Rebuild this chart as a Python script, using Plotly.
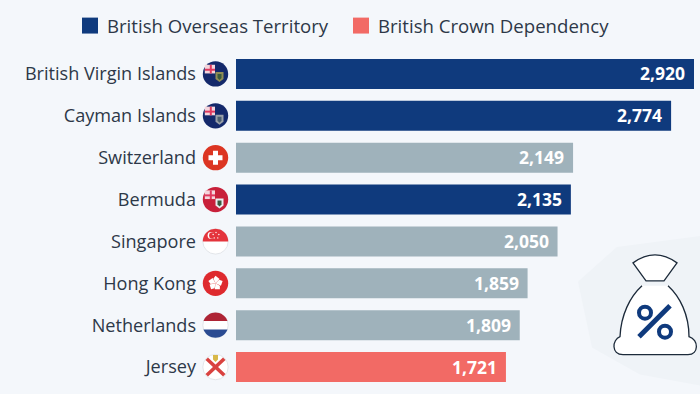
import math
import plotly.graph_objects as go

categories = ["British Virgin Islands", "Cayman Islands", "Switzerland", "Bermuda",
              "Singapore", "Hong Kong", "Netherlands", "Jersey"]
values = [2920, 2774, 2149, 2135, 2050, 1859, 1809, 1721]
groups = ["territory", "territory", "other", "territory", "other", "other", "other", "dependency"]
group_colors = {"territory": "#0f3a7d", "other": "#9fb2bb", "dependency": "#f26a65"}
legend_labels = [("British Overseas Territory", "territory", 82),
                 ("British Crown Dependency", "dependency", 353)]
FONT = "Open Sans"
BG = "#f4f7fb"
TXT = "#2d3848"

L, R, T, B = 236, 694, 52.5, 388.5
def px(x): return (x - L) / (R - L)
def py(y): return 1 - (y - T) / (B - T)
def pts(lst, close=True):
    s = "M" + " L".join(f"{px(x):.5f},{py(y):.5f}" for x, y in lst)
    return s + (" Z" if close else "")
shapes = []
def poly(lst, fill, line=None, lw=0, close=True):
    shapes.append(dict(type="path", xref="paper", yref="paper", path=pts(lst, close),
                       fillcolor=fill if fill else "rgba(0,0,0,0)",
                       line=dict(color=line or "rgba(0,0,0,0)", width=lw)))
def circ(cx, cy, r, fill, line=None, lw=0):
    shapes.append(dict(type="circle", xref="paper", yref="paper",
                       x0=px(cx - r), x1=px(cx + r), y0=py(cy + r), y1=py(cy - r),
                       fillcolor=fill if fill else "rgba(0,0,0,0)",
                       line=dict(color=line or "rgba(0,0,0,0)", width=lw)))
def band(cx, cy, r, y0, y1, fill):
    n = 16
    left, right = [], []
    for i in range(n + 1):
        y = y0 + (y1 - y0) * i / n
        d = math.sqrt(max(r * r - (y - cy) ** 2, 0))
        left.append((cx - d, y)); right.append((cx + d, y))
    poly(right + left[::-1], fill)
def cpath(d, fill, line, lw):
    shapes.append(dict(type="path", xref="paper", yref="paper", path=d, fillcolor=fill,
                       line=dict(color=line, width=lw)))
def P(x, y): return f"{px(x):.5f},{py(y):.5f}"

# pale hexagon behind the icon
poly([(578, 282), (617, 247), (700, 236), (700, 386), (640, 375), (592, 348)], "#eff3f7")

# legend
for label, g, x in legend_labels:
    poly([(x, 17), (x + 16, 17), (x + 16, 33), (x, 33)], group_colors[g])

# flags
FX, FR = 215.5, 12.7
CY = [T + 21 + 42 * i for i in range(8)]
def jack(cx, cy, r):
    x0, y0 = cx - r + 2, cy - r + 3.5
    poly([(x0, y0), (cx - 0.5, y0), (cx - 0.5, cy - 0.5), (x0, cy - 0.5)], "#f4d5dc")
    poly([(x0, y0 + 4), (cx - 0.5, y0 + 4), (cx - 0.5, y0 + 6), (x0, y0 + 6)], "#e0395f")
    poly([(x0 + 5, y0), (x0 + 7, y0), (x0 + 7, cy - 0.5), (x0 + 5, cy - 0.5)], "#e0395f")
def crest(cx, cy, c1, c2):
    poly([(cx - 4, cy - 4), (cx + 4, cy - 4), (cx + 4, cy + 3), (cx, cy + 6), (cx - 4, cy + 3)], c1)
    poly([(cx - 2, cy - 2), (cx + 2, cy - 2), (cx + 2, cy + 2), (cx, cy + 4), (cx - 2, cy + 2)], c2)

# BVI
circ(FX, CY[0], FR, "#14296b"); jack(FX, CY[0], FR); crest(FX + 4, CY[0] + 2, "#8f8d55", "#3b5a3c")
# Cayman
circ(FX, CY[1], FR, "#14296b"); jack(FX, CY[1], FR); crest(FX + 4, CY[1] + 3, "#9aa0a8", "#4b5f70")
# Switzerland
c = CY[2]
circ(FX, c, FR, "#dc3522")
poly([(FX - 2.5, c - 7), (FX + 2.5, c - 7), (FX + 2.5, c - 2.5), (FX + 7, c - 2.5), (FX + 7, c + 2.5),
      (FX + 2.5, c + 2.5), (FX + 2.5, c + 7), (FX - 2.5, c + 7), (FX - 2.5, c + 2.5), (FX - 7, c + 2.5),
      (FX - 7, c - 2.5), (FX - 2.5, c - 2.5)], "#ffffff")
# Bermuda
c = CY[3]
circ(FX, c, FR, "#c8203a"); jack(FX, c, FR); crest(FX + 4, c + 3, "#e9eef0", "#3a5a40")
# Singapore
c = CY[4]
circ(FX, c, FR, "#ffffff", "#e3e6ea", 1)
band(FX, c, FR, c - FR, c, "#e4343c")
circ(FX - 4.5, c - 6, 3.4, "#ffffff"); circ(FX - 3.2, c - 6, 3.2, "#e4343c")
for i in range(5):
    a = -math.pi / 2 + i * 2 * math.pi / 5
    circ(FX + 0.5 + 3 * math.cos(a), c - 6 + 3 * math.sin(a), 0.7, "#ffffff")
# Hong Kong
c = CY[5]
circ(FX, c, FR, "#de2a2e")
for i in range(5):
    a = -math.pi / 2 + i * 2 * math.pi / 5
    b = a + 0.75
    poly([(FX, c), (FX + 5 * math.cos(a - 0.45), c + 5 * math.sin(a - 0.45)),
          (FX + 7.5 * math.cos(a), c + 7.5 * math.sin(a)),
          (FX + 6 * math.cos(b), c + 6 * math.sin(b))], "#ffffff")
# Netherlands
c = CY[6]
circ(FX, c, FR, "#ffffff", "#e3e6ea", 1)
band(FX, c, FR, c - FR, c - FR / 3, "#ae2435")
band(FX, c, FR, c + FR / 3, c + FR, "#2a4b92")
# Jersey
c = CY[7]
circ(FX, c, FR, "#ffffff", "#e3e6ea", 1)
for s in (1, -1):
    poly([(FX - 10 * s, c - 7), (FX - 7.5 * s, c - 9.5), (FX + 10 * s, c + 7), (FX + 7.5 * s, c + 9.5)], "#d9423f")
poly([(FX - 2.5, c - 12), (FX + 2.5, c - 12), (FX + 2.5, c - 7.5), (FX, c - 5), (FX - 2.5, c - 7.5)], "#d8b94a")

# bag icon
OUT = "#1c2a3a"
cpath(f"M{P(633,263)} Q{P(655,247)} {P(677,263)} L{P(664,281)} L{P(646,281)} Z", "#ffffff", OUT, 1.3)
cpath(f"M{P(642,286)} C{P(630,297)} {P(621,315)} {P(620,337)} C{P(612,340)} {P(611,355)} {P(623,355)} "
      f"L{P(688,355)} C{P(699,355)} {P(699,340)} {P(689,337)} C{P(689,315)} {P(680,297)} {P(668,286)} "
      f"L{P(642,286)} Z", "#ffffff", "#ffffff", 0)
cpath(f"M{P(642,286)} C{P(630,297)} {P(621,315)} {P(620,337)} C{P(612,340)} {P(611,355)} {P(623,355)} "
      f"L{P(688,355)} C{P(699,355)} {P(699,340)} {P(689,337)} C{P(689,315)} {P(680,297)} {P(668,286)}",
      "rgba(0,0,0,0)", OUT, 1.3)
BLUE = "#0f3a7d"
circ(645, 313, 6, "#ffffff", BLUE, 4)
circ(665, 332, 6, "#ffffff", BLUE, 4)
poly([(639, 337), (670, 306)], None, BLUE, 5, close=False)

fig = go.Figure(go.Bar(
    y=categories, x=values, orientation="h",
    marker=dict(color=[group_colors[g] for g in groups], line=dict(width=0)),
    hoverinfo="skip", showlegend=False,
))

annotations = [dict(x=v, y=c, xref="x", yref="y", text=f"<b>{v:,}</b>", showarrow=False,
                    xanchor="right", xshift=-7, yshift=0.5, font=dict(family=FONT, size=17.5, color="#ffffff"))
               for c, v in zip(categories, values)]
for label, g, x in legend_labels:
    annotations.append(dict(xref="paper", yref="paper", x=px(x + 22.5), y=py(24.5), text=label,
                            showarrow=False, xanchor="left", yanchor="middle",
                            font=dict(family=FONT, size=18.6, color=TXT)))

fig.update_layout(
    width=700, height=394, margin=dict(l=L, r=700 - R, t=T, b=394 - B, pad=0),
    paper_bgcolor=BG, plot_bgcolor=BG, bargap=12 / 42, showlegend=False,
    shapes=shapes, annotations=annotations,
    font=dict(family=FONT, color=TXT),
    xaxis=dict(range=[0, 2920], visible=False, fixedrange=True),
    yaxis=dict(autorange="reversed", type="category", showgrid=False, zeroline=False, showline=False,
               ticks="", ticklabelstandoff=39, tickfont=dict(family=FONT, size=18.1, color=TXT),
               automargin=False, fixedrange=True),
)
fig.write_html("out.html", config=dict(displayModeBar=False),
               post_script="document.body.style.margin='0';document.documentElement.style.overflow='hidden';")
